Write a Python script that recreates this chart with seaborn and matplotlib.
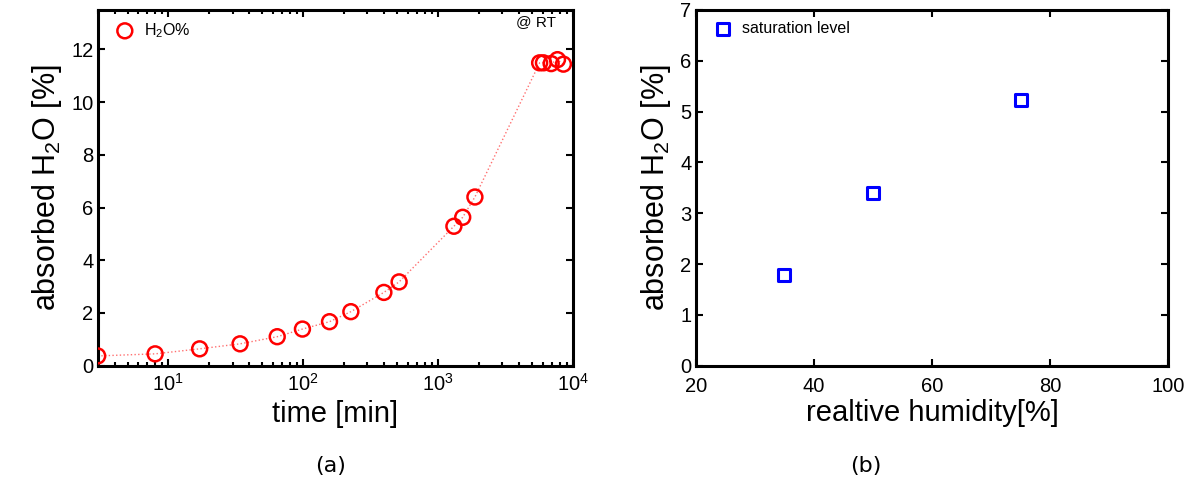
import numpy as np
import pandas as pd
import matplotlib
matplotlib.use("Agg")
import matplotlib.pyplot as plt
import seaborn as sns

# data
time_min = [3.0, 8.0, 17.1, 34.1, 64.3, 98.9, 157, 226, 397, 515,
            1312, 1525, 1878, 5670, 6050, 6900, 7690, 8510]
h2o_pct = [0.37, 0.45, 0.64, 0.83, 1.10, 1.39, 1.67, 2.05, 2.78, 3.18,
           5.29, 5.63, 6.40, 11.49, 11.49, 11.46, 11.61, 11.44]

humidity = [35, 50, 75]
saturation = [1.78, 3.39, 5.23]

sns.set_style("ticks")
plt.rcParams["font.family"] = ["Liberation Sans", "DejaVu Sans"]
plt.rcParams["mathtext.default"] = "regular"
for k in ["text.color", "axes.labelcolor", "xtick.color", "ytick.color",
          "axes.edgecolor"]:
    plt.rcParams[k] = "black"

fig = plt.figure(figsize=(11.94, 4.92), dpi=100)
ax1 = fig.add_axes([0.0818, 0.2567, 0.398, 0.7233])
ax2 = fig.add_axes([0.5827, 0.2567, 0.3958, 0.7233])

df1 = pd.DataFrame({"t": time_min, "h": h2o_pct})
df2 = pd.DataFrame({"rh": humidity, "s": saturation})

# (a) uptake vs time
sns.lineplot(data=df1, x="t", y="h", ax=ax1, color="#ff7070", linestyle=":",
             linewidth=1.0, estimator=None, sort=True)
sns.scatterplot(data=df1, x="t", y="h", ax=ax1, marker="o", s=115,
                facecolors="none", edgecolors="red", linewidth=1.8,
                label="H$_2$O%", zorder=3)
ax1.set_xscale("log")
ax1.set_xlim(3, 1e4)
ax1.set_ylim(0, 13.5)
ax1.set_yticks([0, 2, 4, 6, 8, 10, 12])
ax1.set_xlabel("time [min]", fontsize=21, labelpad=4)
ax1.set_ylabel("absorbed H$_2$O [%]", fontsize=22, labelpad=5)
ax1.text(0.965, 0.985, "@ RT", transform=ax1.transAxes, ha="right", va="top",
         fontsize=11)
ax1.legend(loc="upper left", frameon=False, fontsize=11.5, handletextpad=0.2,
           borderaxespad=0.2, borderpad=0.5)

# (b) saturation level vs humidity
sns.scatterplot(data=df2, x="rh", y="s", ax=ax2, marker="s", s=75,
                facecolors="none", edgecolors="blue", linewidth=2.2,
                label="saturation level")
ax2.set_xlim(20, 100)
ax2.set_ylim(0, 7)
ax2.set_xticks([20, 40, 60, 80, 100])
ax2.set_xlabel("realtive humidity[%]", fontsize=21, labelpad=2)
ax2.set_ylabel("absorbed H$_2$O [%]", fontsize=22, labelpad=5)
ax2.legend(loc="upper left", frameon=False, fontsize=11.5, handletextpad=0.2,
           borderaxespad=0.2, borderpad=0.5)

for ax in (ax1, ax2):
    for sp in ax.spines.values():
        sp.set_visible(True)
        sp.set_linewidth(2.2)
    ax.tick_params(which="both", top=True, right=True, direction="in",
                   labelsize=14.5, width=1.5)
    ax.tick_params(which="major", length=5)
    ax.tick_params(which="minor", length=3)
    ax.tick_params(axis="x", which="both", pad=5)
    ax.tick_params(axis="y", which="both", pad=3)
ax2.tick_params(axis="x", pad=8)

fig.text(0.2765, 0.052, "(a)", ha="center", va="center", fontsize=16,
         family="DejaVu Sans")
fig.text(0.7255, 0.052, "(b)", ha="center", va="center", fontsize=16,
         family="DejaVu Sans")

fig.savefig("out.png", dpi=100)
